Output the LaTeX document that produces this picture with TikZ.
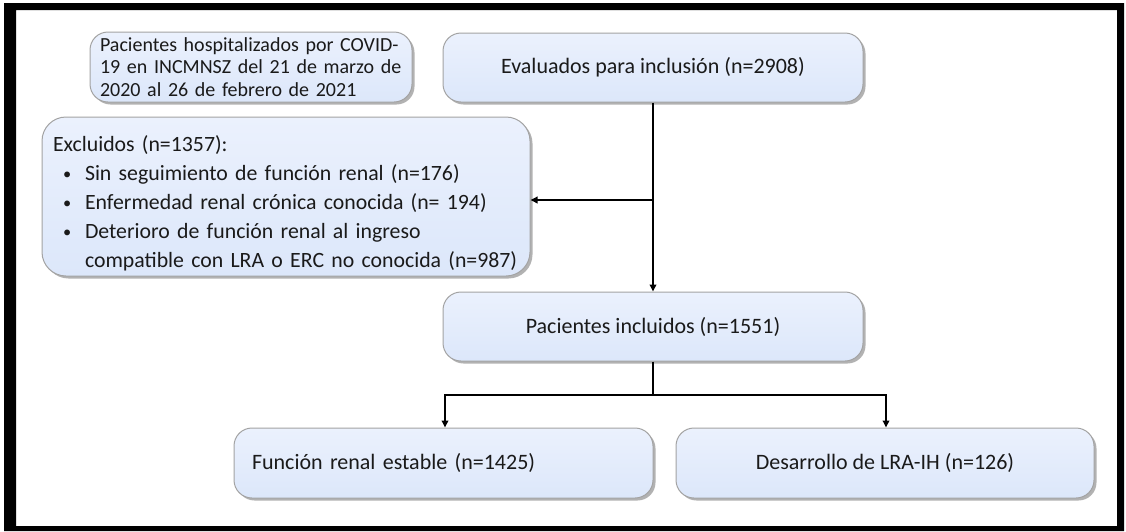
\documentclass[tikz,border=0pt]{standalone}
\usepackage{fontspec}
\setmainfont{Carlito}
\usetikzlibrary{arrows.meta,shadows,calc}
\definecolor{boxtop}{HTML}{EBF1FD}
\definecolor{boxbot}{HTML}{DCE7FA}
\definecolor{boxline}{HTML}{A3A3A3}
\definecolor{txt}{HTML}{1A1A1A}
\newcommand{\blt}{\hspace*{10pt}\makebox[22pt][l]{\raisebox{1pt}{\scalebox{0.75}{•}}}}
\begin{document}
\begin{tikzpicture}[x=1pt,y=-1pt,
  flowbox/.style={rectangle, rounded corners=18pt, draw=boxline, line width=1pt,
    top color=boxtop, bottom color=boxbot, text=txt,
    drop shadow={shadow xshift=2.5pt, shadow yshift=-2.5pt, fill=black, opacity=0.3},
    inner sep=0pt, font=\fontsize{22}{26}\selectfont},
  conn/.style={line width=2pt, draw=black},
  arr/.style={conn, -{Triangle[length=7pt,width=6.5pt]}}]
\useasboundingbox (0,0) rectangle (1126,531);
\fill[white] (0,0) rectangle (1126,531);
% frame
\fill[black, even odd rule] (4,3) rectangle (1124,531) (16,10) rectangle (1117,526);

\node[flowbox, minimum width=322pt, minimum height=70pt, text width=302pt, align=left,
  font=\fontsize{20}{22.5}\selectfont] (pac) at (251,67)
  {Pacientes hospitalizados por COVID-\\19 en INCMNSZ del 21 de marzo de\\2020 al 26 de febrero de 2021};

\node[flowbox, minimum width=420pt, minimum height=69pt] (eval) at (653,67.5)
  {Evaluados para inclusión (n=2908)};

\node[flowbox, rounded corners=24pt, minimum width=488pt, minimum height=159pt, text width=466pt, align=left,
  font=\fontsize{21.8}{29}\selectfont] (excl) at (286,196.5)
  {\rule{0pt}{30pt}Excluidos (n=1357):\\
   \mbox{\blt Sin seguimiento de función renal (n=176)}\\
   \mbox{\blt Enfermedad renal crónica conocida (n= 194)}\\
   \mbox{\blt Deterioro de función renal al ingreso}\\
   \mbox{\hspace*{32pt}compatible con LRA o ERC no conocida (n=987)}};

\node[flowbox, minimum width=420pt, minimum height=69pt] (incl) at (653,326.5)
  {Pacientes incluidos (n=1551)};

\node[flowbox, minimum width=419pt, minimum height=70pt, text width=383pt, align=left] (fre) at (443.5,463)
  {Función renal estable (n=1425)};

\node[flowbox, minimum width=418pt, minimum height=70pt] (lra) at (885,463)
  {Desarrollo de LRA-IH (n=126)};

\draw[arr] (eval.south) -- (incl.north);
\draw[arr] ($(eval.south |- excl.east)+(0,3.5)$) -- ($(excl.east)+(0,3.5)$);
\coordinate (split) at (incl.south |- 0,395);
\draw[conn] (incl.south) -- (split);
\draw[arr] (split) -| ($(fre.north)+(1.5,0)$);
\draw[arr] (split) -| ($(lra.north)+(1,0)$);
\end{tikzpicture}
\end{document}
